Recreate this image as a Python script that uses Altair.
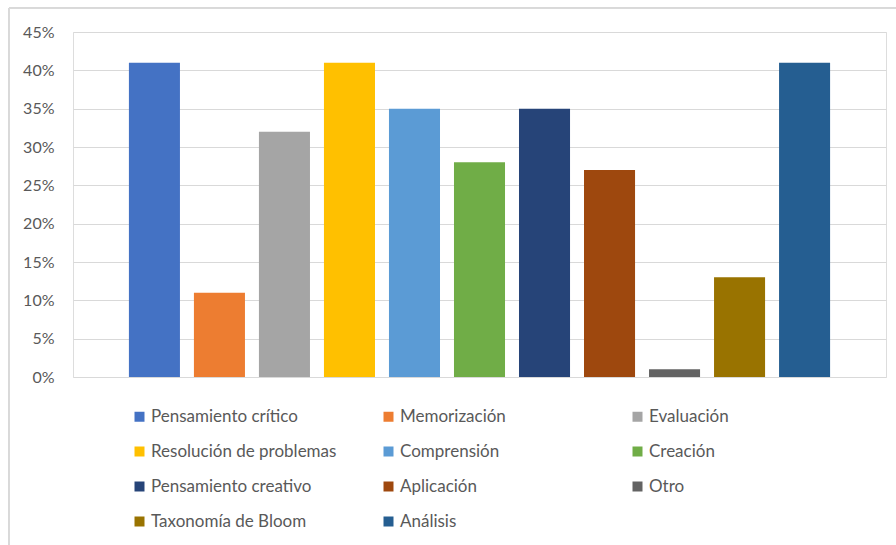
import altair as alt
import pandas as pd

categories = ["Pensamiento crítico", "Memorización", "Evaluación",
              "Resolución de problemas", "Comprensión", "Creación",
              "Pensamiento creativo", "Aplicación", "Otro",
              "Taxonomía de Bloom", "Análisis"]
values = [0.41, 0.11, 0.32, 0.41, 0.35, 0.28, 0.35, 0.27, 0.01, 0.13, 0.41]
colors = ["#4472C4", "#ED7D31", "#A5A5A5", "#FFC000", "#5B9BD5", "#70AD47",
          "#264478", "#9E480E", "#636363", "#997300", "#255E91"]
y_ticks = [0, 0.05, 0.10, 0.15, 0.20, 0.25, 0.30, 0.35, 0.40, 0.45]

df = pd.DataFrame({"cat": categories, "val": values})

FONT = "Lato"
GRAY = "#595959"

bars = alt.Chart(df).mark_bar().encode(
    x=alt.X("cat:N", sort=categories, axis=None,
            scale=alt.Scale(paddingInner=0.215, paddingOuter=0.86)),
    y=alt.Y("val:Q", scale=alt.Scale(domain=[0, 0.45]),
            axis=alt.Axis(values=y_ticks, format=".0%", title=None, domain=False,
                          ticks=False, labelPadding=19, labelFontSize=16,
                          labelFont=FONT, labelColor=GRAY, gridColor="#D9D9D9",
                          gridWidth=1)),
    color=alt.Color("cat:N", sort=categories,
                    scale=alt.Scale(domain=categories, range=colors),
                    legend=alt.Legend(title=None, orient="none", legendX=58, legendY=376,
                                      direction="horizontal", padding=0,
                                      columns=3, symbolType="square", symbolSize=100,
                                      symbolStrokeWidth=0, labelFont=FONT,
                                      labelFontSize=17, labelColor=GRAY,
                                      labelOffset=3, rowPadding=17,
                                      columnPadding=43, gridAlign="all",
                                      labelLimit=400)),
)

border_top = alt.Chart(df).mark_rule(color="#D9D9D9", strokeWidth=1).encode(
    x=alt.value(-64), x2=alt.value(900), y=alt.value(-24))
border_left = alt.Chart(df).mark_rule(color="#D9D9D9", strokeWidth=1).encode(
    x=alt.value(-64), y=alt.value(-24), y2=alt.value(600))

chart = alt.layer(border_top, border_left, bars).properties(
    width=813, height=345,
    padding={"left": 73, "top": 32, "right": 10, "bottom": 168},
    autosize=alt.AutoSizeParams(type="none"),
).configure_view(stroke=None).configure(background="white")

chart.save("out.html", embed_options={"renderer": "svg", "actions": False})
